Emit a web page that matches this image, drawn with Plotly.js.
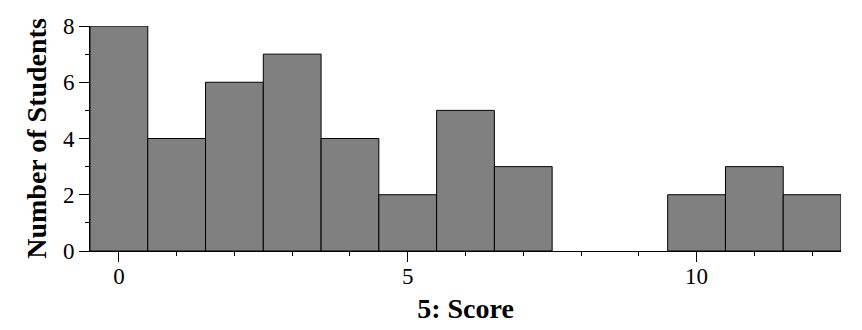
<!DOCTYPE html>
<html>
<head>
<meta charset="utf-8">
<script src="https://cdn.plot.ly/plotly-3.0.1.min.js"></script>
<style>html,body{margin:0;padding:0;background:#fff;}#chart{width:862px;height:330px;}</style>
</head>
<body>
<div id="chart"></div>
<script>
const scores = [0, 1, 2, 3, 4, 5, 6, 7, 8, 9, 10, 11, 12];
const students = [8, 4, 6, 7, 4, 2, 5, 3, 0, 0, 2, 3, 2];
const xTickVals = [0, 5, 10];
const yTickVals = [0, 2, 4, 6, 8];

const font = "Liberation Serif";
const xRange = [-0.5, 12.5];

Plotly.newPlot('chart', [{
  type: 'bar',
  x: scores,
  y: students,
  marker: {color: '#808080', line: {color: '#000', width: students.map(v => v > 0 ? 1 : 0)}},
  hoverinfo: 'x+y'
}, {
  type: 'scatter',
  x: scores,
  y: students,
  xaxis: 'x2',
  mode: 'none',
  hoverinfo: 'skip',
  showlegend: false
}], {
  width: 862, height: 330,
  margin: {l: 90, r: 21, t: 26, b: 79},
  paper_bgcolor: '#fff', plot_bgcolor: '#fff',
  bargap: 0,
  showlegend: false,
  font: {family: font, color: '#000', size: 23},
  xaxis: {
    range: xRange,
    tickvals: xTickVals,
    ticks: 'outside', ticklen: 10, tickwidth: 1, tickcolor: '#000',
    showticklabels: false,
    minor: {dtick: 1, tick0: 0, ticks: 'outside', ticklen: 4, tickcolor: '#000', showgrid: false},
    showline: true, linecolor: '#000', linewidth: 1,
    showgrid: false, zeroline: false,
    title: {text: '<b>5: Score</b>', font: {family: font, size: 28}, standoff: 37}
  },
  xaxis2: {
    overlaying: 'x', anchor: 'y', side: 'bottom',
    range: xRange,
    tickvals: xTickVals,
    ticks: 'outside', ticklen: 4, tickwidth: 1, tickcolor: '#000',
    showline: false, showgrid: false, zeroline: false,
    tickfont: {family: font, size: 23}
  },
  yaxis: {
    range: [0, 8],
    tickvals: yTickVals,
    ticks: 'outside', ticklen: 10, tickwidth: 1, tickcolor: '#000',
    minor: {dtick: 1, tick0: 0, ticks: 'outside', ticklen: 4, tickcolor: '#000', showgrid: false},
    showline: true, linecolor: '#000', linewidth: 1,
    showgrid: false, zeroline: false,
    tickfont: {family: font, size: 23},
    title: {text: '<b>Number of Students</b>', font: {family: font, size: 28}, standoff: 8}
  }
}, {displayModeBar: false, staticPlot: true});
</script>
</body>
</html>
